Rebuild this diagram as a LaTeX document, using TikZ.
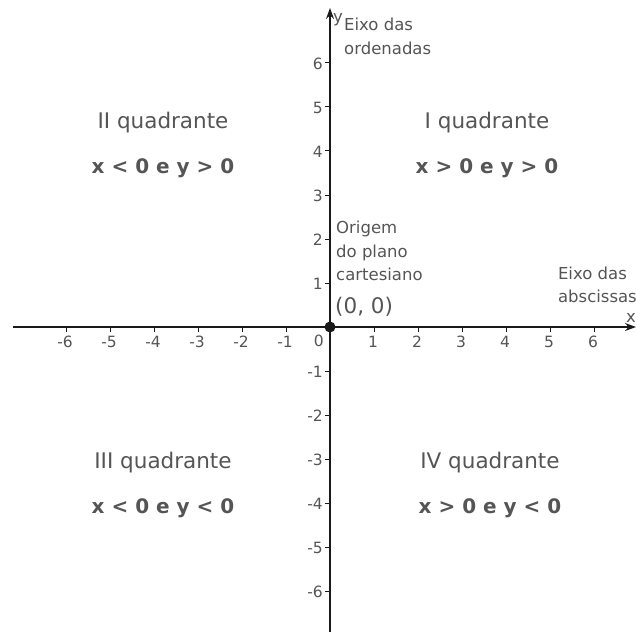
\documentclass[tikz,border=0pt]{standalone}
\usepackage{fontspec}
\setmainfont{DejaVu Sans}
\usetikzlibrary{arrows.meta}
\definecolor{txt}{HTML}{555555}
\definecolor{axc}{HTML}{1A1A1A}
\tikzset{
  axis/.style={draw=axc, line width=1.3bp, -{Stealth[length=11bp,width=8bp]}},
  tickmark/.style={draw=axc, line width=1bp},
  ticklab/.style={text=txt, font=\fontsize{15.5bp}{17bp}\selectfont, inner sep=0pt},
  note/.style={text=txt, font=\fontsize{16.5bp}{23.5bp}\selectfont, inner sep=0pt, align=left},
  quad/.style={text=txt, font=\fontsize{21.5bp}{24bp}\selectfont, inner sep=0pt},
  cond/.style={text=txt, font=\fontsize{20bp}{24bp}\selectfont\bfseries, inner sep=0pt},
}
\begin{document}
\begin{tikzpicture}[x=1bp,y=-1bp]
\useasboundingbox (0,0) rectangle (636,632);
% axes
\coordinate (O) at (330,327);
\coordinate (xl) at (13,327);
\coordinate (xr) at (636,327);
\coordinate (yb) at (330,632);
\coordinate (yt) at (330,8);
\draw[axis] (xl) -- (xr);
\draw[axis] (yb) -- (yt);
% ticks on x axis
\foreach \k in {-6,...,-1,1,2,...,6} {
  \coordinate (xt\k) at ({330+44*\k},327);
  \draw[tickmark] (xt\k) -- ++(0,5);
  \node[ticklab, anchor=north] (xlab\k) at ({330+44*\k-1},336) {\ifnum\k<0 -\the\numexpr-\k\relax\else\k\fi};
}
% ticks on y axis
\foreach \k in {-6,...,-1,1,2,...,6} {
  \coordinate (yt\k) at (330,{327-44*\k});
  \draw[tickmark] (yt\k) -- ++(-5,0);
  \node[ticklab, anchor=east] (ylab\k) at (323,{327-44*\k+1}) {\ifnum\k<0 -\the\numexpr-\k\relax\else\k\fi};
}
\node[ticklab, anchor=north east] (zero) at (324,335) {0};
% origin
\fill[axc] (O) circle (5.5bp);
% axis labels
\node[note, anchor=west] (ylabel) at (333,20) {y};
\node[note, anchor=north west] (ordenadas) at (344,18) {Eixo das\\ordenadas};
\node[note, anchor=south east] (abscissas) at (637,303) {Eixo das\\abscissas};
\node[note, anchor=east] (xlabel) at (636,318) {x};
% origin note
\node[note, anchor=north west] (origem) at (336,221) {Origem\\do plano\\cartesiano};
\node[quad, anchor=west] (oo) at (335,307) {(0, 0)};
% quadrants
\node[quad] (q1) at (487,123) {I quadrante};
\node[cond] (c1) at (487,168) {x > 0 e y > 0};
\node[quad] (q2) at (163,123) {II quadrante};
\node[cond] (c2) at (163,168) {x < 0 e y > 0};
\node[quad] (q3) at (163,463) {III quadrante};
\node[cond] (c3) at (163,508) {x < 0 e y < 0};
\node[quad] (q4) at (490,463) {IV quadrante};
\node[cond] (c4) at (490,508) {x > 0 e y < 0};
\end{tikzpicture}
\end{document}
